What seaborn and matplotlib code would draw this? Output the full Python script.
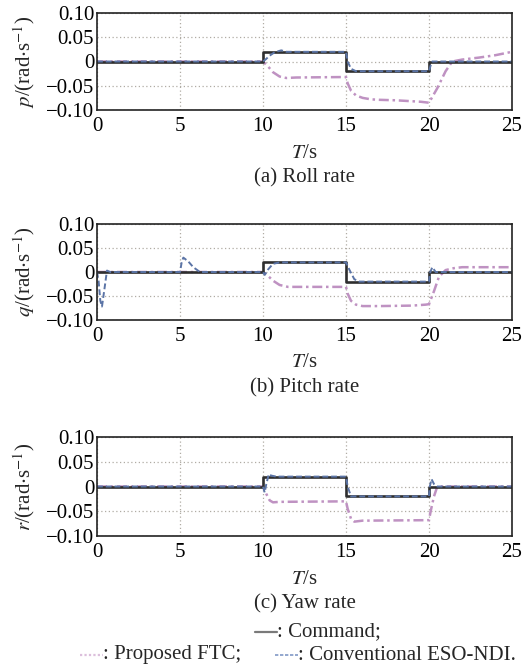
import numpy as np
import pandas as pd
import matplotlib
matplotlib.use("Agg")
import matplotlib.pyplot as plt
from matplotlib.lines import Line2D
import seaborn as sns

# ---- data -----------------------------------------------------------------
# Command signal (same for all three channels)
cmd_t = [0, 10, 10, 15, 15, 20, 20, 25]
cmd_v = [0, 0, 0.02, 0.02, -0.02, -0.02, 0, 0]

# Roll rate p
p_eso_t = [0, 10, 10.15, 10.4, 10.7, 11.1, 11.4, 15, 15.1, 15.3, 15.6, 20, 20.1, 20.2, 25]
p_eso_v = [0, 0, 0.004, 0.012, 0.019, 0.023, 0.02, 0.02, 0.0, -0.015, -0.02, -0.02, -0.008, 0, 0]
p_ftc_t = [0, 10, 10.3, 10.6, 11.0, 11.4, 12, 15, 15.1, 15.3, 15.6, 16, 16.5, 17, 18, 19,
           19.5, 20, 20.5, 21, 21.4, 22, 23, 24, 25]
p_ftc_v = [0, 0, -0.01, -0.022, -0.031, -0.034, -0.033, -0.032, -0.045, -0.06, -0.07, -0.075,
           -0.078, -0.079, -0.08, -0.082, -0.083, -0.085, -0.055, -0.02, 0.0, 0.004, 0.008,
           0.013, 0.02]

# Pitch rate q
q_eso_t = [0, 0.1, 0.2, 0.3, 0.45, 0.6, 0.8, 5, 5.1, 5.2, 5.5, 5.8, 6.2, 10, 10.1, 10.3,
           10.6, 11, 15, 15.2, 15.5, 15.8, 20, 20.08, 20.2, 20.4, 25]
q_eso_v = [0, -0.02, -0.06, -0.072, -0.035, 0.003, 0, 0, 0.02, 0.03, 0.022, 0.01, 0, 0,
           -0.006, 0.005, 0.017, 0.02, 0.02, 0.005, -0.015, -0.02, -0.02, 0.0, 0.01, 0, 0]
q_ftc_t = [0, 10, 10.3, 10.6, 11, 11.5, 15, 15.1, 15.3, 15.6, 16, 17, 19, 19.8, 20, 20.3,
           20.6, 21, 21.5, 22, 25]
q_ftc_v = [0, 0, -0.008, -0.018, -0.027, -0.031, -0.031, -0.045, -0.06, -0.068, -0.071,
           -0.071, -0.07, -0.068, -0.067, -0.04, -0.01, 0.004, 0.008, 0.01, 0.01]

# Yaw rate r
r_eso_t = [0, 10, 10.1, 10.2, 10.35, 10.5, 10.8, 15, 15.1, 15.3, 20, 20.05, 20.15, 20.3,
           20.5, 25]
r_eso_v = [0, 0, -0.012, 0.005, 0.025, 0.022, 0.02, 0.02, 0.0, -0.02, -0.02, 0.0, 0.015,
           0.005, 0, 0]
r_ftc_t = [0, 10, 10.2, 10.4, 10.6, 11, 15, 15.1, 15.3, 15.5, 16, 20, 20.1, 20.3, 20.5, 25]
r_ftc_v = [0, 0, -0.015, -0.028, -0.032, -0.031, -0.03, -0.045, -0.065, -0.071, -0.069,
           -0.068, -0.05, -0.02, 0.0, 0.0]

panels = [
    ("p", "(a) Roll rate", p_ftc_t, p_ftc_v, p_eso_t, p_eso_v),
    ("q", "(b) Pitch rate", q_ftc_t, q_ftc_v, q_eso_t, q_eso_v),
    ("r", "(c) Yaw rate", r_ftc_t, r_ftc_v, r_eso_t, r_eso_v),
]

x_ticks = [0, 5, 10, 15, 20, 25]
y_ticks = [-0.10, -0.05, 0, 0.05, 0.10]
y_tick_labels = ["\u22120.10", "\u22120.05", "0", "0.05", "0.10"]

CMD_COLOR = "#2e2e2e"
FTC_COLOR = "#bf92c2"
ESO_COLOR = "#5b74a6"

# ---- style ----------------------------------------------------------------
sns.set_theme(style="white")
plt.rcParams["font.family"] = ["Liberation Serif", "DejaVu Serif"]
plt.rcParams["mathtext.fontset"] = "stix"
plt.rcParams["axes.linewidth"] = 1.2

FS = 15

fig = plt.figure(figsize=(5.22, 6.71), dpi=100)
W, H = 522, 671

# axes boxes in pixels: (top, bottom)
boxes = [(13, 110), (224, 320), (437, 536)]
left_px, right_px = 97, 512

for (var, caption, ft, fv, et, ev), (top, bot) in zip(panels, boxes):
    h_px = bot - top
    ax = fig.add_axes([left_px / W, 1 - bot / H, (right_px - left_px) / W, h_px / H])

    ftc = pd.DataFrame({"t": ft, "v": fv})
    eso = pd.DataFrame({"t": et, "v": ev})
    cmd = pd.DataFrame({"t": cmd_t, "v": cmd_v})

    sns.lineplot(data=ftc, x="t", y="v", ax=ax, estimator=None, sort=False,
                 color=FTC_COLOR, lw=1.8, linestyle=(0, (4, 1.5, 1, 1.5)))
    sns.lineplot(data=cmd, x="t", y="v", ax=ax, estimator=None, sort=False,
                 color=CMD_COLOR, lw=1.9)
    sns.lineplot(data=eso, x="t", y="v", ax=ax, estimator=None, sort=False,
                 color=ESO_COLOR, lw=1.4, linestyle=(0, (3, 1.5)))

    ax.set_xlim(0, 25)
    ax.set_ylim(-0.10, 0.10)
    ax.set_xticks(x_ticks)
    ax.set_yticks(y_ticks)
    ax.set_yticklabels(y_tick_labels)
    ax.tick_params(axis="both", direction="in", length=4, width=1.0,
                   labelsize=FS, colors="black", pad=2)
    ax.tick_params(axis="x", pad=5)
    ax.grid(True, color="#b0aca4", linestyle=(0, (1, 2)), linewidth=0.9)
    for s in ax.spines.values():
        s.set_color("#222222")
        s.set_linewidth(1.2)

    ax.set_xlabel(r"$T$/s", fontsize=FS)
    ax.xaxis.label.set_va("center")
    ax.xaxis.set_label_coords(0.5, -43 / h_px)
    ax.set_ylabel(r"$%s$/(rad$\cdot$s$^{-1}$)" % var, fontsize=FS)
    ax.yaxis.label.set_va("center")
    ax.yaxis.set_label_coords(-(97 - 24) / (right_px - left_px), 0.5)

    cx = (left_px + right_px) / 2 / W
    fig.text(cx, 1 - (bot + 68) / H, caption, ha="center", va="center", fontsize=FS)

# ---- legend drawn as a caption line ---------------------------------------
def sample(x0, x1, y, color, ls, lw):
    fig.add_artist(Line2D([x0 / W, x1 / W], [1 - y / H, 1 - y / H],
                          color=color, linestyle=ls, lw=lw, transform=fig.transFigure))

y1, y2 = 632, 655
sample(255, 277, y1, "#7a7a7a", "-", 1.6)
fig.text(277 / W, 1 - y1 / H, ": Command;", ha="left", va="center", fontsize=FS)
sample(80, 103, y2, "#dcbfdc", (0, (1, 1)), 1.6)
fig.text(103 / W, 1 - y2 / H, ": Proposed FTC;", ha="left", va="center", fontsize=FS)
sample(275, 298, y2, "#8098c6", (0, (2, 1)), 1.2)
fig.text(298 / W, 1 - y2 / H, ": Conventional ESO-NDI.", ha="left", va="center", fontsize=FS)

fig.savefig("out.png", dpi=100)
